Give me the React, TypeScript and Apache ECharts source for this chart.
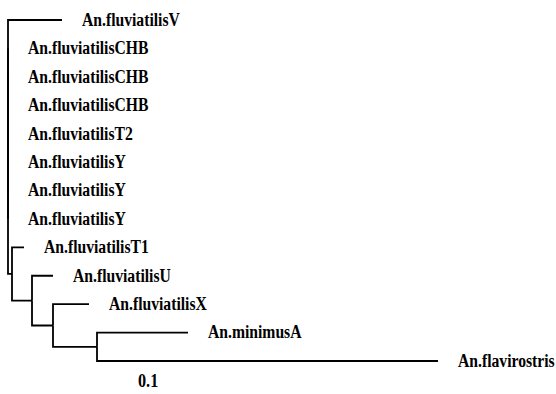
import React, { useEffect, useRef } from "react";
import * as echarts from "echarts";

// Tree topology: node ids, their parents, branch lengths (substitutions/site) and leaf labels
const nodeIds = ["root", "V", "CHB1", "CHB2", "CHB3", "T2", "Y1", "Y2", "Y3", "n1", "T1", "n2", "U", "n3", "X", "n4", "mA", "fl"];
const nodeParents = [null, "root", "root", "root", "root", "root", "root", "root", "root", "root", "n1", "n1", "n2", "n2", "n3", "n3", "n4", "n4"];
const branchLengths = [0, 0.054, 0, 0, 0, 0, 0, 0, 0, 0.004, 0.012, 0.02, 0.021, 0.021, 0.036, 0.044, 0.091, 0.341];
const nodeLabels = [
  "",
  "An.fluviatilisV",
  "An.fluviatilisCHB",
  "An.fluviatilisCHB",
  "An.fluviatilisCHB",
  "An.fluviatilisT2",
  "An.fluviatilisY",
  "An.fluviatilisY",
  "An.fluviatilisY",
  "",
  "An.fluviatilisT1",
  "",
  "An.fluviatilisU",
  "",
  "An.fluviatilisX",
  "",
  "An.minimusA",
  "An.flavirostris",
];
const scaleLabel = "0.1";

function layoutTree() {
  const n = nodeIds.length;
  const idx: Record<string, number> = {};
  nodeIds.forEach((id, i) => (idx[id] = i));
  const children: number[][] = nodeIds.map(() => []);
  nodeParents.forEach((p, i) => {
    if (p !== null) children[idx[p]].push(i);
  });
  const xs = new Array(n).fill(0);
  const ys = new Array(n).fill(0);
  let leafCounter = 0;
  const visit = (i: number, x: number) => {
    xs[i] = x + branchLengths[i];
    if (children[i].length === 0) {
      ys[i] = leafCounter++;
    } else {
      children[i].forEach((c) => visit(c, xs[i]));
      const f = children[i][0];
      const l = children[i][children[i].length - 1];
      ys[i] = (ys[f] + ys[l]) / 2;
    }
  };
  visit(0, 0);
  const rows: any[] = [];
  for (let i = 0; i < n; i++) {
    const p = nodeParents[i];
    if (p === null) continue;
    const pi = idx[p];
    rows.push([xs[i], ys[i], xs[pi], ys[pi], i]);
  }
  return { rows, leafCount: leafCounter };
}

export default function App() {
  const ref = useRef<HTMLDivElement>(null);
  useEffect(() => {
    if (!ref.current) return;
    const chart = echarts.init(ref.current, null, { renderer: "svg" });
    const { rows, leafCount } = layoutTree();
    const fontStr = "bold 18px 'Liberation Serif', 'Times New Roman', serif";
    chart.setOption({
      animation: false,
      backgroundColor: "#fff",
      grid: { left: 8, top: 20, width: 1000 * 0.5, height: 341 },
      xAxis: { type: "value", min: 0, max: 0.5, show: false },
      yAxis: { type: "value", min: 0, max: leafCount - 1, inverse: true, show: false },
      series: [
        {
          type: "custom",
          clip: false,
          data: rows,
          renderItem: (params: any, api: any) => {
            const x = api.value(0);
            const y = api.value(1);
            const px = api.value(2);
            const py = api.value(3);
            const ni = api.value(4);
            const a = api.coord([px, py]);
            const b = api.coord([px, y]);
            const c = api.coord([x, y]);
            const kids: any[] = [
              {
                type: "polyline",
                shape: { points: [a, b, c] },
                style: { stroke: "#000", lineWidth: 1.8, fill: null },
              },
            ];
            const label = nodeLabels[ni];
            if (label) {
              kids.push({
                type: "text",
                x: c[0] + 20,
                y: c[1],
                scaleX: 0.87,
                style: { font: fontStr, fill: "#000", text: label, verticalAlign: "middle", align: "left" },
              });
            }
            return { type: "group", children: kids };
          },
        },
      ],
      graphic: [
        {
          type: "text",
          x: 138,
          y: 381,
          scaleX: 0.9,
          style: {
            fontFamily: "'Liberation Serif', 'Times New Roman', serif",
            fontSize: 18,
            fontWeight: "bold",
            fill: "#000",
            text: scaleLabel,
            verticalAlign: "middle",
            align: "left",
          },
        },
      ],
    });
    return () => chart.dispose();
  }, []);
  return <div ref={ref} style={{ position: "fixed", left: 0, top: 0, width: 556, height: 394 }} />;
}
